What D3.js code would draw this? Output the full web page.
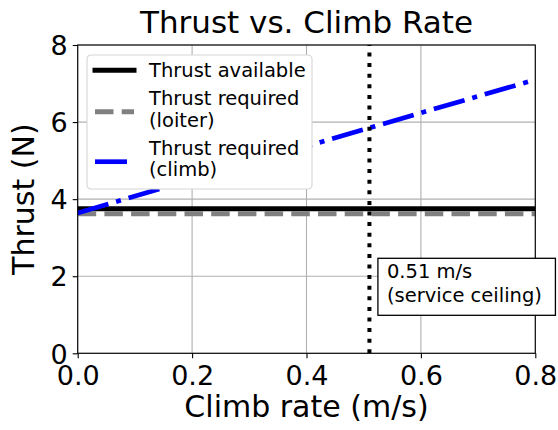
<!DOCTYPE html>
<html>
<head>
<meta charset="utf-8">
<script src="https://cdn.jsdelivr.net/npm/d3@7"></script>
<style>
  body { margin: 0; background: #fff; }
  svg text { font-family: "DejaVu Sans", sans-serif; fill: #000; }
</style>
</head>
<body>
<div id="chart"></div>
<script>
// Data
var climbRates = [0, 0.2, 0.4, 0.6, 0.8];
var thrustAvailable = [3.75, 3.75, 3.75, 3.75, 3.75];
var thrustLoiter = [3.62, 3.62, 3.62, 3.62, 3.62];
var thrustClimb = [3.64, 4.51, 5.37, 6.24, 7.10];
var serviceCeiling = 0.51;
var xTicks = [0, 0.2, 0.4, 0.6, 0.8];
var yTicks = [0, 2, 4, 6, 8];
var legendLabels = [["Thrust available"], ["Thrust required", "(loiter)"], ["Thrust required", "(climb)"]];
var noteLines = ["0.51 m/s", "(service ceiling)"];

// SVG area
var svgWidth = 558;
var svgHeight = 430;
var chartMargin = { top: 45, right: 22.7, bottom: 76.7, left: 77.7 };
var chartWidth = svgWidth - chartMargin.left - chartMargin.right;
var chartHeight = svgHeight - chartMargin.top - chartMargin.bottom;

var svg = d3.select("#chart")
  .append("svg")
  .attr("width", svgWidth)
  .attr("height", svgHeight);

var chartGroup = svg.append("g")
  .attr("transform", `translate(${chartMargin.left}, ${chartMargin.top})`);

var xScale = d3.scaleLinear().domain([0, 0.8]).range([0, chartWidth]);
var yScale = d3.scaleLinear().domain([0, 8]).range([chartHeight, 0]);

svg.append("defs").append("clipPath").attr("id", "clip")
  .append("rect").attr("width", chartWidth).attr("height", chartHeight);

// grid
chartGroup.append("g")
  .selectAll("line.gx")
  .data(xTicks)
  .enter().append("line")
  .attr("x1", d => xScale(d)).attr("x2", d => xScale(d))
  .attr("y1", 0).attr("y2", chartHeight)
  .attr("stroke", "#b0b0b0").attr("stroke-width", 1.1);
chartGroup.append("g")
  .selectAll("line.gy")
  .data(yTicks)
  .enter().append("line")
  .attr("x1", 0).attr("x2", chartWidth)
  .attr("y1", d => yScale(d)).attr("y2", d => yScale(d))
  .attr("stroke", "#b0b0b0").attr("stroke-width", 1.1);

// axes
var bottomAxis = d3.axisBottom(xScale).tickValues(xTicks).tickFormat(d3.format(".1f"))
  .tickSize(5).tickPadding(5);
var leftAxis = d3.axisLeft(yScale).tickValues(yTicks).tickFormat(d3.format("d"))
  .tickSize(5).tickPadding(5);

var xAxisG = chartGroup.append("g")
  .attr("transform", `translate(0, ${chartHeight})`)
  .call(bottomAxis);
var yAxisG = chartGroup.append("g").call(leftAxis);

[xAxisG, yAxisG].forEach(function(g) {
  g.select(".domain").remove();
  g.selectAll("line").attr("stroke", "#000").attr("stroke-width", 1.1);
  g.selectAll("text").style("font-size", "27px").attr("fill", "#000");
});
xAxisG.selectAll("text").attr("dy", "0.8em");
yAxisG.selectAll("text").attr("dy", "0.36em");

// line styles
var styles = {
  available: { color: "#000", width: 5, dash: null, cap: "square" },
  loiter: { color: "#808080", width: 5, dash: "18.5,8.2", cap: "butt" },
  climb: { color: "#0000ff", width: 4.7, dash: "32,8,5,8", cap: "butt" }
};

var line = d3.line()
  .x((d, i) => xScale(climbRates[i]))
  .y(d => yScale(d));

var plotArea = chartGroup.append("g").attr("clip-path", "url(#clip)");

[[thrustAvailable, styles.available], [thrustLoiter, styles.loiter], [thrustClimb, styles.climb]]
  .forEach(function(s) {
    plotArea.append("path")
      .attr("d", line(s[0]))
      .attr("fill", "none")
      .attr("stroke", s[1].color)
      .attr("stroke-width", s[1].width)
      .attr("stroke-linecap", s[1].cap)
      .attr("stroke-dasharray", s[1].dash);
  });

plotArea.append("line")
  .attr("x1", xScale(serviceCeiling)).attr("x2", xScale(serviceCeiling))
  .attr("y1", chartHeight).attr("y2", 0)
  .attr("stroke", "#000").attr("stroke-width", 4)
  .attr("stroke-dasharray", "4,6.6");

// spines
chartGroup.append("rect")
  .attr("width", chartWidth).attr("height", chartHeight)
  .attr("fill", "none").attr("stroke", "#000").attr("stroke-width", 1.1);

// annotation box
var note = chartGroup.append("g")
  .attr("transform", `translate(${xScale(serviceCeiling) + 8.5}, 213.3)`);
note.append("rect")
  .attr("width", 177.5).attr("height", 57)
  .attr("fill", "#fff").attr("stroke", "#000").attr("stroke-width", 1.3);
note.selectAll("text")
  .data(noteLines)
  .enter().append("text")
  .attr("x", 9).attr("y", (d, i) => 20 + i * 23.5)
  .style("font-size", "19.5px")
  .text(d => d);

// legend
var legend = chartGroup.append("g").attr("transform", "translate(9.3, 10)");
legend.append("rect")
  .attr("width", 225).attr("height", 134).attr("rx", 4)
  .attr("fill", "#fff")
  .attr("stroke", "#d5d5d5").attr("stroke-width", 1.1);

var handleY = [15.3, 56.7, 106.7];
var textY = [[22], [50, 71.7], [100, 120.7]];
var handleStyle = [styles.available, styles.loiter, styles.climb];
legendLabels.forEach(function(lines, i) {
  legend.append("line")
    .attr("x1", 8).attr("x2", 47)
    .attr("y1", handleY[i]).attr("y2", handleY[i])
    .attr("stroke", handleStyle[i].color)
    .attr("stroke-width", handleStyle[i].width)
    .attr("stroke-linecap", handleStyle[i].cap)
    .attr("stroke-dasharray", handleStyle[i].dash);
  lines.forEach(function(t, j) {
    legend.append("text")
      .attr("x", 62).attr("y", textY[i][j])
      .style("font-size", "19.5px")
      .text(t);
  });
});

// title and axis labels
svg.append("text")
  .attr("x", chartMargin.left + chartWidth / 2).attr("y", 33)
  .attr("text-anchor", "middle")
  .style("font-size", "31px")
  .text("Thrust vs. Climb Rate");

svg.append("text")
  .attr("x", chartMargin.left + chartWidth / 2).attr("y", 417)
  .attr("text-anchor", "middle")
  .style("font-size", "30px")
  .text("Climb rate (m/s)");

svg.append("text")
  .attr("transform", `translate(34, ${chartMargin.top + chartHeight / 2}) rotate(-90)`)
  .attr("text-anchor", "middle")
  .style("font-size", "30px")
  .text("Thrust (N)");
</script>
</body>
</html>
